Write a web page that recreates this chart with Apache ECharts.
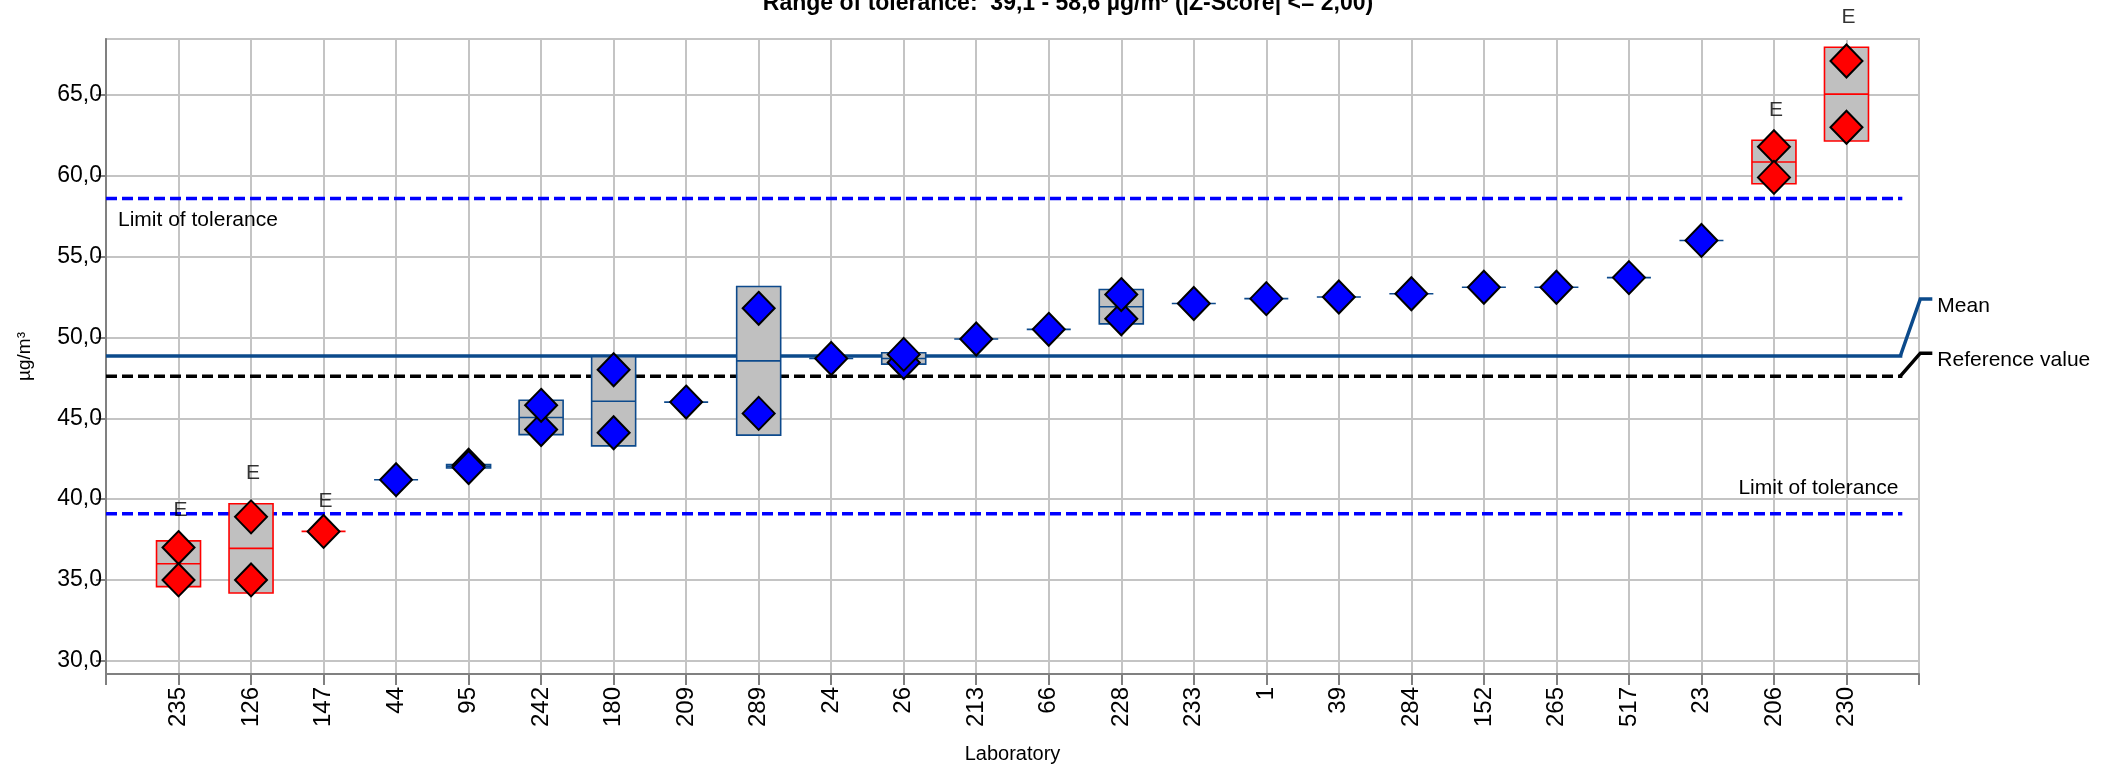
<!DOCTYPE html>
<html>
<head>
<meta charset="utf-8">
<script src="https://cdn.jsdelivr.net/npm/echarts@6/dist/echarts.min.js"></script>
<style>
  html, body { margin: 0; padding: 0; background: #ffffff; }
  #chart { width: 2103px; height: 766px; }
</style>
</head>
<body>
<div id="chart"></div>
<script>
// Laboratories in plotting order
const labs = ['235', '126', '147', '44', '95', '242', '180', '209', '289', '24', '26', '213',
              '66', '228', '233', '1', '39', '284', '152', '265', '517', '23', '206', '230'];
// Replicate measurements (µg/m³); null where only one result was reported
const rep1 = [37.0, 38.9, 38.0, 41.2, 42.1, 44.3, 48.0, 46.0, 51.8, 48.7, 48.45, 49.9,
              50.5, 51.15, 52.1, 52.4, 52.5, 52.7, 53.1, 53.1, 53.7, 56.0, 61.8, 67.1];
const rep2 = [35.0, 35.0, null, null, 41.95, 45.8, 44.1, null, 45.3, null, 48.95, null,
              null, 52.65, null, null, null, null, null, null, null, null, 59.9, 63.0];
// Labs flagged "E" (outside the range of tolerance)
const flaggedLabs = ['235', '126', '147', '206', '230'];

// Assigned values
const meanValue = 48.85;
const referenceValue = 47.6;
const lowerLimit = 39.1;
const upperLimit = 58.6;

// Axis ranges
const yMin = 29.18;
const yMax = 68.46;

const FONT = 'Liberation Sans, Arial, Helvetica, sans-serif';
const RED = '#ff0000';
const BLUE = '#0000ff';
const BOX_BLUE = '#0d4a8c';
const MEAN_COLOR = '#0b4a8b';
const GRID_GRAY = '#c4c4c4';
const AXIS_GRAY = '#808080';
const LINE_END = 24.77;   // reference lines stop just short of the right frame

// Per-lab mean and standard deviation of the replicates
const stats = labs.map((lab, i) => {
  const vals = [rep1[i], rep2[i]].filter(v => v != null);
  const m = vals.reduce((a, b) => a + b, 0) / vals.length;
  const sd = vals.length > 1
    ? Math.sqrt(vals.reduce((a, v) => a + (v - m) * (v - m), 0) / (vals.length - 1))
    : 0;
  return { x: i + 1, m, sd, flag: flaggedLabs.includes(lab) ? 1 : 0 };
});

const boxData = stats.map(s => [s.x, s.m - s.sd, s.m, s.m + s.sd, s.flag]);
const flagData = stats.filter(s => s.flag).map(s => [s.x, s.m + s.sd]);

function pointSeries(values) {
  const data = [];
  values.forEach((v, i) => {
    if (v == null) return;
    const flagged = flaggedLabs.includes(labs[i]);
    data.push({ value: [i + 1, v], itemStyle: { color: flagged ? RED : BLUE } });
  });
  return {
    type: 'scatter', z: 5, silent: true,
    symbol: 'diamond', symbolSize: [32, 33],
    itemStyle: { borderColor: '#000000', borderWidth: 2, opacity: 1 },
    data: data
  };
}

function hLine(value, color, width, dashed) {
  return {
    type: 'line', z: 2, silent: true, symbol: 'none',
    lineStyle: { color: color, width: width, type: dashed ? [11, 5] : 'solid' },
    data: [[0, value], [LINE_END, value]]
  };
}

const chart = echarts.init(document.getElementById('chart'), null, { renderer: 'canvas' });

chart.setOption({
  animation: false,
  backgroundColor: '#ffffff',
  textStyle: { fontFamily: FONT },
  grid: {
    left: 106, right: 184, top: 39, bottom: 92,
    containLabel: false, outerBoundsMode: 'none',
    show: true, borderColor: GRID_GRAY, borderWidth: 2, backgroundColor: 'transparent'
  },
  xAxis: {
    type: 'value', min: 0, max: 25, interval: 1,
    axisLine: { show: true, onZero: false, lineStyle: { color: AXIS_GRAY, width: 2 } },
    axisTick: { show: true, length: 11, lineStyle: { color: AXIS_GRAY, width: 2 } },
    axisLabel: {
      rotate: 90, margin: 13, fontSize: 24, color: '#000000', fontFamily: FONT,
      formatter: v => labs[v - 1] || ''
    },
    splitLine: { show: true, lineStyle: { color: GRID_GRAY, width: 2 } },
    name: 'Laboratory', nameLocation: 'middle', nameGap: 70,
    nameTextStyle: { fontSize: 20, color: '#000000', fontFamily: FONT }
  },
  yAxis: {
    type: 'value', min: yMin, max: yMax, splitNumber: 8,
    axisLine: { show: true, onZero: false, lineStyle: { color: AXIS_GRAY, width: 2 } },
    axisTick: { show: true, length: 10, lineStyle: { color: AXIS_GRAY, width: 2 } },
    axisLabel: {
      fontSize: 23, margin: 4, color: '#000000', fontFamily: FONT,
      showMinLabel: false, showMaxLabel: false,
      formatter: v => (Math.abs(v / 5 - Math.round(v / 5)) < 1e-6 ? v.toFixed(1).replace('.', ',') : '')
    },
    splitLine: { show: true, lineStyle: { color: GRID_GRAY, width: 2 } },
    name: 'µg/m³', nameLocation: 'middle', nameGap: 72, nameRotate: 90,
    nameTextStyle: { fontSize: 19, color: '#000000', fontFamily: FONT }
  },
  series: [
    hLine(upperLimit, BLUE, 3.5, true),
    hLine(lowerLimit, BLUE, 3.5, true),
    hLine(referenceValue, '#000000', 3.5, true),
    hLine(meanValue, MEAN_COLOR, 3.5, false),
    {
      // mean ± SD boxes with the mean as a centre line
      type: 'custom', z: 3, silent: true,
      data: boxData,
      encode: { x: 0, y: [1, 2, 3] },
      renderItem: function (params, api) {
        const x = api.value(0);
        const lo = api.coord([x, api.value(1)]);
        const mid = api.coord([x, api.value(2)]);
        const hi = api.coord([x, api.value(3)]);
        const col = api.value(4) ? RED : BOX_BLUE;
        const hw = 22;
        const children = [];
        if (lo[1] - hi[1] > 3) {
          children.push({
            type: 'rect',
            shape: { x: lo[0] - hw, y: hi[1], width: hw * 2, height: lo[1] - hi[1] },
            style: { fill: '#c0c0c0', stroke: col, lineWidth: 1.6 }
          });
        }
        children.push({
          type: 'line',
          shape: { x1: mid[0] - hw, y1: mid[1], x2: mid[0] + hw, y2: mid[1] },
          style: { stroke: col, lineWidth: 1.6 }
        });
        return { type: 'group', children: children };
      }
    },
    pointSeries(rep1),
    pointSeries(rep2),
    {
      // "E" markers above flagged labs
      type: 'scatter', z: 6, silent: true, symbolSize: 0,
      data: flagData,
      label: {
        show: true, position: 'top', distance: 20, formatter: 'E',
        fontSize: 21, color: '#000000', fontFamily: FONT, offset: [2, 0]
      }
    }
  ]
});

// Annotations tied to the assigned-value lines
function px(x, y) { return chart.convertToPixel({ gridIndex: 0 }, [x, y]); }
const meanEnd = px(LINE_END, meanValue);
const refEnd = px(LINE_END, referenceValue);
const upStart = px(0, upperLimit);
const lowEnd = px(LINE_END, lowerLimit);
const textStyle = { fontSize: 21, fill: '#000000', fontFamily: FONT, textVerticalAlign: 'middle' };

chart.setOption({
  graphic: [
    {
      type: 'text', x: 1068, y: -8, z: 10,
      style: {
        text: 'Range of tolerance:  39,1 - 58,6 µg/m³ (|Z-Score| <= 2,00)',
        fontSize: 23, fontWeight: 'bold', fill: '#000000', fontFamily: FONT,
        textAlign: 'center', textVerticalAlign: 'top'
      }
    },
    {
      type: 'polyline', z: 10,
      shape: { points: [[meanEnd[0] - 2, meanEnd[1]], [meanEnd[0] + 18, meanEnd[1] - 57], [meanEnd[0] + 30, meanEnd[1] - 57]] },
      style: { stroke: MEAN_COLOR, lineWidth: 3.5, fill: null }
    },
    {
      type: 'text', x: meanEnd[0] + 35, y: meanEnd[1] - 50, z: 10,
      style: Object.assign({ text: 'Mean', textAlign: 'left' }, textStyle)
    },
    {
      type: 'polyline', z: 10,
      shape: { points: [[refEnd[0] - 2, refEnd[1]], [refEnd[0] + 18, refEnd[1] - 23], [refEnd[0] + 30, refEnd[1] - 23]] },
      style: { stroke: '#000000', lineWidth: 3.5, fill: null }
    },
    {
      type: 'text', x: refEnd[0] + 35, y: refEnd[1] - 16, z: 10,
      style: Object.assign({ text: 'Reference value', textAlign: 'left' }, textStyle)
    },
    {
      type: 'text', x: upStart[0] + 12, y: upStart[1] + 22, z: 10,
      style: Object.assign({ text: 'Limit of tolerance', textAlign: 'left' }, textStyle)
    },
    {
      type: 'text', x: lowEnd[0] - 4, y: lowEnd[1] - 25, z: 10,
      style: Object.assign({ text: 'Limit of tolerance', textAlign: 'right' }, textStyle)
    }
  ]
});
</script>
</body>
</html>
